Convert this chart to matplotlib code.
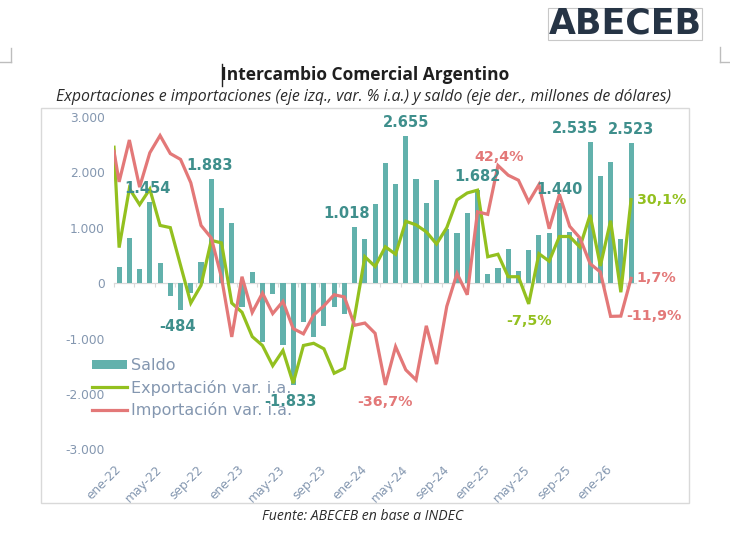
import numpy as np
import matplotlib
matplotlib.use("Agg")
import matplotlib.pyplot as plt
from matplotlib.lines import Line2D
from matplotlib.patches import Patch, Rectangle

# ========== datos ==========
meses = ["ene", "feb", "mar", "abr", "may", "jun", "jul", "ago", "sep", "oct", "nov", "dic"]
anios = ["22", "23", "24", "25", "26"]
categorias = [f"{m}-{a}" for a in anios for m in meses][:51]   # ene-22 ... mar-26

# saldo comercial, millones de dólares (barras)
saldo = [289, 813, 259, 1454, 361, -229, -484, -170, 373, 1883, 1349, 1090,
         -434, 200, -1070, -190, -1120, -1833, -705, -976, -765, -434, -554, 1018,
         801, 1422, 2157, 1795, 2655, 1873, 1452, 1867, 982, 904, 1271, 1682,
         157, 265, 620, 211, 602, 873, 904, 1440, 930, 820, 2535, 1928,
         2187, 801, 2523]

# var. % i.a. -- el primer valor es el extremo izquierdo de la línea (antes de ene-22)
expo_inicio = 49.0
expo = [12.8, 34.1, 28.3, 33.9, 20.8, 20.0, 6.4, -7.2, -0.8, 15.4, 14.5, -7.2,
        -10.5, -19.3, -22.5, -29.8, -24.3, -36.1, -22.5, -21.7, -23.7, -32.5, -30.7, -12.0,
        9.5, 6.0, 13.1, 10.4, 22.3, 21.0, 18.5, 14.1, 20.0, 30.0, 32.5, 33.5,
        9.5, 10.4, 2.3, 2.3, -7.5, 10.6, 7.9, 16.8, 16.8, 13.0, 24.6, 6.2,
        22.5, -3.3, 30.1]

impo_inicio = 47.5
impo = [36.5, 51.6, 34.6, 47.0, 53.2, 46.7, 44.6, 36.2, 20.8, 16.3, 2.0, -19.4,
        2.3, -10.6, -3.6, -11.0, -6.6, -16.4, -18.3, -11.5, -8.2, -4.2, -5.0, -15.2,
        -14.4, -18.1, -36.7, -22.9, -31.3, -34.9, -15.4, -29.2, -8.4, 3.5, -4.2, 25.7,
        24.8, 42.4, 38.9, 37.1, 29.3, 35.5, 19.6, 32.0, 20.5, 16.3, 7.0, 4.0,
        -12.0, -11.9, 1.7]

# etiquetas visibles (índice de mes)
lbl_saldo = [3, 6, 9, 17, 23, 28, 35, 43, 46, 50]
lbl_expo = [40, 50]
lbl_impo = [26, 37, 49, 50]

# ========== estilo ==========
C_BAR = "#62b1ac"
C_BAR_TXT = "#3f8f8c"
C_EXP = "#93c01f"
C_IMP = "#e37878"
C_AXTXT = "#8497b0"
C_GRID = "#d9d9d9"
FONT_TXT = "Open Sans"
FONT_NUM = "DejaVu Sans"

W, H = 730, 535


def fx(px):
    return px / W


def fy(py):
    return 1 - py / H


def fmt_miles(v):
    return f"{v:,}".replace(",", ".")


def fmt_pct(v):
    return f"{v:.1f}%".replace(".", ",")


fig = plt.figure(figsize=(W / 100, H / 100), dpi=100)
fig.patch.set_facecolor("white")

# marco del gráfico y logo
fig.patches.append(Rectangle((fx(41), fy(503)), fx(689) - fx(41), fy(108) - fy(503),
                             transform=fig.transFigure, fill=False, ec=C_GRID, lw=1.0))
fig.patches.append(Rectangle((fx(548), fy(40)), fx(702) - fx(548), fy(8) - fy(40),
                             transform=fig.transFigure, fill=False, ec="#c8c8c8", lw=0.8))
fig.text(fx(625), fy(24), "ABECEB", ha="center", va="center", fontsize=25,
         fontweight="bold", color="#263445", family=FONT_NUM)

# marcas de margen de la página y cursor
for xs, ys in [((11, 11), (48, 62)), ((0, 11), (62, 62)),
               ((720, 720), (47, 62)), ((720, 730), (62, 62))]:
    fig.add_artist(Line2D([fx(v) for v in xs], [fy(v) for v in ys],
                          transform=fig.transFigure, color="#bdbdbd", lw=1.0))
fig.add_artist(Line2D([fx(221.5), fx(221.5)], [fy(64), fy(86)],
                      transform=fig.transFigure, color="#222222", lw=1.0))

# títulos
fig.text(fx(365), fy(75), "Intercambio Comercial Argentino", ha="center", va="center",
         fontsize=12.5, fontweight="bold", color="#1f1f1f", family=FONT_TXT)
fig.text(fx(364), fy(97),
         "Exportaciones e importaciones (eje izq., var. % i.a.) y saldo (eje der., millones de dólares)",
         ha="center", va="center", fontsize=11.4, style="italic", color="#2b2b2b", family=FONT_TXT)
fig.text(fx(363), fy(517), "Fuente: ABECEB en base a INDEC", ha="center", va="center",
         fontsize=10.1, style="italic", color="#2b2b2b", family=FONT_TXT)

# ========== ejes ==========
ax = fig.add_axes([fx(114), fy(449.5), fx(636.2) - fx(114), fy(116.7) - fy(449.5)])
x = np.arange(len(saldo))
ax.bar(x, saldo, width=0.5, color=C_BAR, zorder=2)
ax.set_xlim(-0.5, 50.5)
ax.set_ylim(-3000, 3000)
for s in ax.spines.values():
    s.set_visible(False)

yt = list(range(-3000, 3001, 1000))
ax.set_yticks(yt)
ax.set_yticklabels([fmt_miles(v) for v in yt], family=FONT_NUM)
ax.tick_params(axis="y", length=0, pad=6.5, labelsize=8.8, labelcolor=C_AXTXT)

xt = list(range(0, 51, 4))
ax.set_xticks(xt)
ax.set_xticklabels([categorias[i] for i in xt], family=FONT_NUM)
ax.tick_params(axis="x", length=0, pad=13, labelsize=8.8, labelcolor=C_AXTXT)
for t in ax.get_xticklabels():
    t.set_rotation(45)
    t.set_ha("right")
    t.set_va("center")
    t.set_rotation_mode("anchor")

# eje en cero con marcas cada dos meses
sec = ax.secondary_xaxis(0.5)
sec.set_alignment("bottom")
sec.set_xticks(np.arange(-0.5, 51, 2))
sec.tick_params(axis="x", direction="out", length=3, width=0.8, color=C_GRID,
                labelbottom=False, labeltop=False)
for s in sec.spines.values():
    s.set_color(C_GRID)
    s.set_linewidth(0.9)

# líneas en el eje secundario (oculto)
ax2 = ax.twinx()
ax2.set_ylim(-60, 60)
ax2.axis("off")
xl = np.r_[-0.5, x]
ax2.plot(xl, [expo_inicio] + expo, color=C_EXP, lw=2.3, solid_joinstyle="miter", zorder=3)
ax2.plot(xl, [impo_inicio] + impo, color=C_IMP, lw=2.3, solid_joinstyle="miter", zorder=3)

# ========== etiquetas de datos ==========
kw_num = dict(family=FONT_NUM, fontweight="bold", textcoords="offset points",
              annotation_clip=False, zorder=5)
dx_saldo = {3: -2, 6: -2, 9: -1.5, 17: -2, 23: -6, 46: -11}
for i in lbl_saldo:
    v = saldo[i]
    dy = 6.5 if v > 0 else -15
    ax2.annotate(fmt_miles(v), xy=(i, v), xycoords=ax.transData,
                 xytext=(dx_saldo.get(i, 0), dy), ha="center", va="baseline",
                 fontsize=10.5, color=C_BAR_TXT, **kw_num)


def etiqueta_linea(i, v, color):
    if i == 50 or i == 49:
        ax2.annotate(fmt_pct(v), xy=(i, v), xytext=(4, 0), ha="left", va="center",
                     fontsize=10.3, color=color, **kw_num)
    elif v > 0:
        ax2.annotate(fmt_pct(v), xy=(i, v), xytext=(1, 3.2), ha="center", va="baseline",
                     fontsize=10.3, color=color, **kw_num)
    else:
        ax2.annotate(fmt_pct(v), xy=(i, v), xytext=(0, -15), ha="center", va="baseline",
                     fontsize=10.3, color=color, **kw_num)


for i in lbl_expo:
    etiqueta_linea(i, expo[i], C_EXP)
for i in lbl_impo:
    etiqueta_linea(i, impo[i], C_IMP)

# ========== leyenda ==========
handles = [Patch(facecolor=C_BAR, edgecolor="none", label="Saldo"),
           Line2D([], [], color=C_EXP, lw=2.3, label="Exportación var. i.a."),
           Line2D([], [], color=C_IMP, lw=2.3, label="Importación var. i.a.")]
leg = fig.legend(handles=handles, loc="center left", bbox_to_anchor=(fx(91.5), fy(388)),
                 frameon=False, prop={"family": FONT_NUM, "size": 11.5},
                 handlelength=2.2, handleheight=0.56, handletextpad=0.3,
                 labelspacing=0.4, borderpad=0, borderaxespad=0)
for t in leg.get_texts():
    t.set_color(C_AXTXT)

fig.savefig("out.png", dpi=100)
